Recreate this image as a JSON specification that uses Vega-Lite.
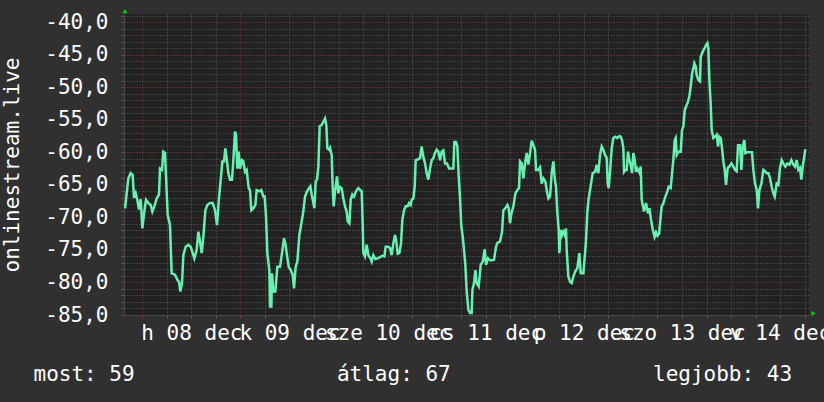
{
  "$schema": "https://vega.github.io/schema/vega-lite/v6.json",
  "width": 685,
  "height": 301,
  "autosize": {"type": "none"},
  "padding": {"left": 124, "top": 14, "right": 15, "bottom": 87},
  "background": "#303030",
  "config": {"view": {"fill": "#222222", "stroke": null}, "font": "DejaVu Sans Mono"},
  "layer": [
    {
      "data": {"values": [
        {"hour":-4.23,"value":-68.6},{"hour":-3.82,"value":-66.3},{"hour":-3.42,"value":-64.0},{"hour":-2.85,"value":-63.2},{"hour":-2.36,"value":-63.5},{"hour":-2.03,"value":-67.0},{"hour":-1.62,"value":-66.3},{"hour":-1.22,"value":-67.3},{"hour":-0.81,"value":-68.8},{"hour":-0.40,"value":-67.2},{"hour":0.01,"value":-71.7},{"hour":0.42,"value":-69.4},{"hour":0.90,"value":-67.3},{"hour":1.48,"value":-67.8},{"hour":2.05,"value":-68.1},{"hour":2.45,"value":-69.1},{"hour":2.94,"value":-68.3},{"hour":3.51,"value":-67.1},{"hour":4.08,"value":-66.5},{"hour":4.33,"value":-62.5},{"hour":4.82,"value":-62.7},{"hour":5.14,"value":-59.9},{"hour":5.55,"value":-60.1},{"hour":5.80,"value":-63.7},{"hour":6.20,"value":-69.6},{"hour":6.77,"value":-71.2},{"hour":7.18,"value":-78.6},{"hour":8.00,"value":-78.8},{"hour":8.57,"value":-79.6},{"hour":8.98,"value":-79.9},{"hour":9.30,"value":-81.4},{"hour":9.71,"value":-80.1},{"hour":10.04,"value":-75.8},{"hour":10.61,"value":-74.5},{"hour":11.26,"value":-74.2},{"hour":11.83,"value":-74.5},{"hour":12.32,"value":-75.5},{"hour":12.73,"value":-76.3},{"hour":13.30,"value":-75.0},{"hour":13.70,"value":-72.2},{"hour":14.11,"value":-73.7},{"hour":14.52,"value":-75.5},{"hour":14.93,"value":-73.0},{"hour":15.42,"value":-68.9},{"hour":15.91,"value":-68.1},{"hour":16.56,"value":-67.8},{"hour":17.21,"value":-67.8},{"hour":17.78,"value":-68.9},{"hour":18.27,"value":-71.2},{"hour":18.68,"value":-67.6},{"hour":19.17,"value":-64.2},{"hour":19.58,"value":-61.4},{"hour":19.98,"value":-61.4},{"hour":20.31,"value":-59.4},{"hour":20.72,"value":-61.4},{"hour":21.04,"value":-63.2},{"hour":21.45,"value":-64.2},{"hour":21.94,"value":-64.2},{"hour":22.27,"value":-61.2},{"hour":22.67,"value":-56.8},{"hour":22.92,"value":-57.3},{"hour":23.24,"value":-62.5},{"hour":23.57,"value":-59.9},{"hour":23.90,"value":-62.5},{"hour":24.38,"value":-61.2},{"hour":24.71,"value":-61.4},{"hour":25.12,"value":-63.0},{"hour":25.53,"value":-62.7},{"hour":26.02,"value":-65.5},{"hour":26.34,"value":-65.8},{"hour":26.67,"value":-68.9},{"hour":27.16,"value":-68.6},{"hour":27.65,"value":-68.1},{"hour":27.97,"value":-65.8},{"hour":28.63,"value":-66.0},{"hour":29.11,"value":-65.8},{"hour":29.60,"value":-66.8},{"hour":29.93,"value":-66.8},{"hour":30.26,"value":-69.9},{"hour":30.58,"value":-75.5},{"hour":31.07,"value":-78.1},{"hour":31.23,"value":-83.7},{"hour":31.56,"value":-83.7},{"hour":31.72,"value":-78.6},{"hour":32.05,"value":-81.4},{"hour":32.54,"value":-81.4},{"hour":33.03,"value":-77.6},{"hour":33.68,"value":-77.6},{"hour":34.17,"value":-75.5},{"hour":34.66,"value":-73.2},{"hour":34.98,"value":-74.0},{"hour":35.31,"value":-75.5},{"hour":35.80,"value":-77.6},{"hour":36.29,"value":-78.1},{"hour":36.78,"value":-78.8},{"hour":37.10,"value":-80.9},{"hour":37.51,"value":-77.6},{"hour":37.92,"value":-76.8},{"hour":38.41,"value":-72.7},
        {"hour":38.82,"value":-71.2},{"hour":39.31,"value":-69.4},{"hour":39.80,"value":-66.8},{"hour":40.29,"value":-66.0},{"hour":40.77,"value":-65.5},{"hour":41.10,"value":-65.2},{"hour":41.43,"value":-66.5},{"hour":41.83,"value":-67.8},{"hour":42.08,"value":-68.6},{"hour":42.40,"value":-64.5},{"hour":42.73,"value":-64.2},{"hour":43.06,"value":-62.2},{"hour":43.38,"value":-56.0},{"hour":43.87,"value":-55.8},{"hour":44.28,"value":-55.3},{"hour":44.69,"value":-54.8},{"hour":45.01,"value":-55.8},{"hour":45.26,"value":-59.4},{"hour":45.67,"value":-59.6},{"hour":45.91,"value":-59.3},{"hour":46.32,"value":-60.4},{"hour":46.56,"value":-65.3},{"hour":46.81,"value":-68.3},{"hour":47.13,"value":-66.0},{"hour":47.62,"value":-63.7},{"hour":47.95,"value":-66.3},{"hour":48.28,"value":-65.3},{"hour":48.76,"value":-65.5},{"hour":49.17,"value":-67.1},{"hour":49.58,"value":-68.3},{"hour":49.99,"value":-69.1},{"hour":50.23,"value":-70.6},{"hour":50.64,"value":-70.9},{"hour":50.97,"value":-67.3},{"hour":51.37,"value":-66.5},{"hour":51.78,"value":-66.8},{"hour":52.27,"value":-66.0},{"hour":52.84,"value":-65.5},{"hour":53.33,"value":-65.8},{"hour":53.66,"value":-66.0},{"hour":53.90,"value":-70.9},{"hour":54.06,"value":-75.5},{"hour":54.47,"value":-76.0},{"hour":54.88,"value":-74.2},{"hour":55.29,"value":-75.8},{"hour":55.78,"value":-76.3},{"hour":56.10,"value":-76.8},{"hour":56.51,"value":-75.8},{"hour":57.00,"value":-76.4},{"hour":57.57,"value":-76.3},{"hour":58.14,"value":-76.1},{"hour":58.71,"value":-75.9},{"hour":59.20,"value":-76.0},{"hour":59.53,"value":-74.5},{"hour":60.18,"value":-74.5},{"hour":60.59,"value":-74.7},{"hour":60.99,"value":-75.8},{"hour":61.40,"value":-74.0},{"hour":61.81,"value":-72.7},{"hour":62.13,"value":-73.7},{"hour":62.46,"value":-75.6},{"hour":62.87,"value":-75.5},{"hour":63.28,"value":-74.0},{"hour":63.60,"value":-70.4},{"hour":64.01,"value":-68.9},{"hour":64.42,"value":-68.3},{"hour":64.91,"value":-68.3},{"hour":65.23,"value":-67.8},{"hour":65.64,"value":-68.1},{"hour":65.89,"value":-67.3},{"hour":66.29,"value":-67.1},{"hour":66.62,"value":-65.3},{"hour":66.86,"value":-61.2},{"hour":67.35,"value":-61.1},{"hour":67.92,"value":-60.9},{"hour":68.33,"value":-59.1},{"hour":68.74,"value":-60.7},{"hour":69.15,"value":-61.7},{"hour":69.55,"value":-63.2},{"hour":69.96,"value":-64.2},{"hour":70.37,"value":-62.5},{"hour":70.78,"value":-61.2},{"hour":71.18,"value":-60.9},{"hour":71.59,"value":-60.1},{"hour":72.00,"value":-59.6},{"hour":72.41,"value":-59.9},{"hour":72.82,"value":-61.2},{"hour":73.22,"value":-59.9},{"hour":73.63,"value":-59.7},{"hour":74.04,"value":-61.7},{"hour":74.53,"value":-61.7},{"hour":75.02,"value":-62.5},{"hour":75.51,"value":-62.5},{"hour":76.08,"value":-62.5},{"hour":76.32,"value":-58.4},{"hour":76.73,"value":-58.4},{"hour":77.06,"value":-59.1},{"hour":77.38,"value":-63.5},{"hour":77.71,"value":-67.1},{"hour":78.03,"value":-71.4},{"hour":78.36,"value":-72.9},{"hour":78.69,"value":-75.0},{"hour":79.01,"value":-77.3},{"hour":79.34,"value":-81.4},{"hour":79.75,"value":-84.2},{"hour":80.15,"value":-84.7},{"hour":80.56,"value":-84.7},{"hour":80.75,"value":-81.1},{"hour":81.14,"value":-80.1},{"hour":81.46,"value":-78.1},
        {"hour":81.79,"value":-80.1},{"hour":82.28,"value":-80.6},{"hour":82.77,"value":-77.3},{"hour":83.26,"value":-76.8},{"hour":83.75,"value":-74.9},{"hour":84.07,"value":-77.3},{"hour":84.56,"value":-76.3},{"hour":85.05,"value":-76.6},{"hour":85.54,"value":-76.6},{"hour":86.03,"value":-76.5},{"hour":86.52,"value":-74.5},{"hour":86.85,"value":-73.9},{"hour":87.50,"value":-73.7},{"hour":87.99,"value":-72.2},{"hour":88.31,"value":-68.9},{"hour":88.80,"value":-68.6},{"hour":89.29,"value":-68.1},{"hour":89.62,"value":-68.6},{"hour":89.94,"value":-70.9},{"hour":90.27,"value":-69.4},{"hour":90.76,"value":-68.3},{"hour":91.25,"value":-66.3},{"hour":91.74,"value":-65.8},{"hour":92.14,"value":-65.5},{"hour":92.39,"value":-61.4},{"hour":92.80,"value":-61.7},{"hour":93.20,"value":-64.0},{"hour":93.61,"value":-61.7},{"hour":94.02,"value":-60.1},{"hour":94.43,"value":-61.9},{"hour":94.84,"value":-60.1},{"hour":95.24,"value":-58.2},{"hour":95.65,"value":-58.9},{"hour":96.06,"value":-59.6},{"hour":96.30,"value":-62.7},{"hour":96.79,"value":-62.7},{"hour":97.28,"value":-62.3},{"hour":97.69,"value":-64.8},{"hour":98.10,"value":-64.0},{"hour":98.59,"value":-64.5},{"hour":98.91,"value":-65.8},{"hour":99.32,"value":-67.1},{"hour":99.73,"value":-66.8},{"hour":100.13,"value":-63.2},{"hour":100.54,"value":-61.4},{"hour":100.87,"value":-64.0},{"hour":101.19,"value":-65.3},{"hour":101.52,"value":-69.4},{"hour":101.85,"value":-71.9},{"hour":102.01,"value":-75.5},{"hour":102.34,"value":-71.9},{"hour":102.66,"value":-72.7},{"hour":102.99,"value":-72.2},{"hour":103.32,"value":-72.7},{"hour":103.64,"value":-71.7},{"hour":103.80,"value":-75.0},{"hour":104.21,"value":-79.1},{"hour":104.62,"value":-79.9},{"hour":105.03,"value":-80.1},{"hour":105.43,"value":-79.1},{"hour":105.92,"value":-78.3},{"hour":106.41,"value":-77.8},{"hour":106.90,"value":-75.5},{"hour":107.23,"value":-78.6},{"hour":107.88,"value":-78.6},{"hour":108.29,"value":-75.5},{"hour":108.53,"value":-73.5},{"hour":108.86,"value":-69.1},{"hour":109.18,"value":-67.1},{"hour":109.51,"value":-65.8},{"hour":109.84,"value":-64.5},{"hour":110.16,"value":-63.2},{"hour":110.73,"value":-63.0},{"hour":111.14,"value":-61.9},{"hour":111.55,"value":-63.2},{"hour":111.96,"value":-60.4},{"hour":112.36,"value":-59.1},{"hour":112.77,"value":-59.6},{"hour":113.18,"value":-60.4},{"hour":113.59,"value":-60.9},{"hour":113.83,"value":-64.8},{"hour":114.08,"value":-65.5},{"hour":114.40,"value":-63.0},{"hour":114.81,"value":-59.4},{"hour":115.22,"value":-57.8},{"hour":115.71,"value":-57.6},{"hour":116.20,"value":-57.8},{"hour":116.69,"value":-57.5},{"hour":117.01,"value":-57.6},{"hour":117.34,"value":-58.1},{"hour":117.66,"value":-59.4},{"hour":117.83,"value":-63.0},{"hour":118.15,"value":-62.7},{"hour":118.48,"value":-62.7},{"hour":118.81,"value":-59.9},{"hour":119.13,"value":-61.2},{"hour":119.46,"value":-61.9},{"hour":119.78,"value":-63.2},{"hour":120.11,"value":-60.1},{"hour":120.44,"value":-61.2},{"hour":120.76,"value":-63.0},{"hour":121.09,"value":-62.5},{"hour":121.58,"value":-63.1},{"hour":121.90,"value":-62.2},
        {"hour":122.15,"value":-67.3},{"hour":122.72,"value":-69.1},{"hour":123.21,"value":-67.8},{"hour":123.70,"value":-69.4},{"hour":124.02,"value":-68.6},{"hour":124.40,"value":-70.2},{"hour":124.90,"value":-72.0},{"hour":125.30,"value":-73.0},{"hour":125.65,"value":-72.3},{"hour":126.00,"value":-72.8},{"hour":126.40,"value":-72.5},{"hour":126.70,"value":-70.5},{"hour":127.04,"value":-68.3},{"hour":127.45,"value":-67.8},{"hour":127.94,"value":-66.8},{"hour":128.43,"value":-66.0},{"hour":128.75,"value":-65.3},{"hour":129.24,"value":-65.5},{"hour":129.65,"value":-62.7},{"hour":129.89,"value":-61.2},{"hour":130.22,"value":-58.1},{"hour":130.46,"value":-57.8},{"hour":130.71,"value":-60.4},{"hour":131.12,"value":-59.9},{"hour":131.69,"value":-59.9},{"hour":132.01,"value":-56.6},{"hour":132.34,"value":-56.0},{"hour":132.67,"value":-53.5},{"hour":132.99,"value":-53.0},{"hour":133.48,"value":-52.2},{"hour":133.81,"value":-51.4},{"hour":134.13,"value":-49.9},{"hour":134.46,"value":-47.9},{"hour":134.78,"value":-47.1},{"hour":135.03,"value":-46.3},{"hour":135.36,"value":-46.8},{"hour":135.60,"value":-48.1},{"hour":136.01,"value":-48.9},{"hour":136.42,"value":-49.1},{"hour":136.58,"value":-45.3},{"hour":136.90,"value":-44.8},{"hour":137.23,"value":-44.3},{"hour":137.56,"value":-44.0},{"hour":137.88,"value":-43.5},{"hour":138.21,"value":-43.2},{"hour":138.45,"value":-44.0},{"hour":138.70,"value":-48.9},{"hour":139.02,"value":-52.5},{"hour":139.27,"value":-56.6},{"hour":139.68,"value":-57.8},{"hour":140.08,"value":-57.6},{"hour":140.49,"value":-57.3},{"hour":140.82,"value":-59.1},{"hour":141.14,"value":-57.6},{"hour":141.47,"value":-57.8},{"hour":141.80,"value":-59.4},{"hour":142.12,"value":-61.4},{"hour":142.45,"value":-62.7},{"hour":142.77,"value":-65.0},{"hour":143.18,"value":-62.4},{"hour":143.59,"value":-62.2},{"hour":144.08,"value":-61.7},{"hour":144.57,"value":-62.2},{"hour":144.98,"value":-62.7},{"hour":145.38,"value":-62.9},{"hour":145.71,"value":-58.9},{"hour":146.20,"value":-58.9},{"hour":146.53,"value":-62.7},{"hour":146.85,"value":-59.1},{"hour":147.26,"value":-58.1},{"hour":147.50,"value":-60.1},{"hour":147.83,"value":-60.0},{"hour":148.48,"value":-60.0},{"hour":149.13,"value":-60.0},{"hour":149.46,"value":-62.7},{"hour":149.87,"value":-64.8},{"hour":150.28,"value":-65.8},{"hour":150.60,"value":-68.6},{"hour":150.93,"value":-65.8},{"hour":151.42,"value":-64.8},{"hour":151.91,"value":-62.7},{"hour":152.31,"value":-62.9},{"hour":152.72,"value":-63.2},{"hour":153.13,"value":-63.2},{"hour":153.54,"value":-64.0},{"hour":153.94,"value":-65.3},{"hour":154.35,"value":-66.3},{"hour":154.68,"value":-66.8},{"hour":155.17,"value":-64.8},{"hour":155.58,"value":-65.0},{"hour":155.98,"value":-62.4},{"hour":156.39,"value":-61.2},{"hour":156.80,"value":-61.7},{"hour":157.29,"value":-62.2},{"hour":157.78,"value":-61.7},{"hour":158.27,"value":-61.9},{"hour":158.76,"value":-61.2},{"hour":159.24,"value":-61.9},{"hour":159.65,"value":-62.2},{"hour":160.06,"value":-61.2},{"hour":160.47,"value":-62.7},{"hour":160.87,"value":-62.4},{"hour":161.20,"value":-64.2},{"hour":161.53,"value":-62.2},{"hour":161.85,"value":-60.9},{"hour":162.18,"value":-59.5}
      ]},
      "mark": {"type": "line", "color": "#68f0b0", "strokeWidth": 2.5, "clip": true},
      "encoding": {
        "x": {
          "field": "hour", "type": "quantitative",
          "scale": {"domain": [-4.48, 163.07], "nice": false, "zero": false},
          "axis": {
            "values": [0,6,12,18,24,30,36,42,48,54,60,66,72,78,84,90,96,102,108,114,120,126,132,138,144,150,156,162],
            "tickCount": 100,
            "labelExpr": "datum.value % 24 === 12 ? ['h','k','sze','cs','p','szo','v'][floor(datum.value / 24)] + ' ' + ['08','09','10','11','12','13','14'][floor(datum.value / 24)] + ' dec' : ''",
            "labelFont": "DejaVu Sans Mono", "labelFontSize": 21, "labelColor": "#ffffff",
            "labelOverlap": false, "labelBound": false, "labelFlush": false, "labelAngle": 0, "labelPadding": 4,
            "grid": true, "gridDash": [1, 2], "gridWidth": 1,
            "gridColor": {"condition": {"test": "datum.value % 24 === 0", "value": "#8a3838"}, "value": "#5e5e5e"},
            "ticks": true, "tickSize": 3,
            "tickColor": {"condition": {"test": "datum.value % 24 === 0", "value": "#8a3838"}, "value": "#5e5e5e"},
            "domain": true, "domainColor": "#4a4a4a",
            "title": "most: 59\u00a0\u00a0\u00a0\u00a0\u00a0\u00a0\u00a0\u00a0\u00a0\u00a0\u00a0\u00a0\u00a0\u00a0\u00a0\u00a0átlag: 67\u00a0\u00a0\u00a0\u00a0\u00a0\u00a0\u00a0\u00a0\u00a0\u00a0\u00a0\u00a0\u00a0\u00a0\u00a0\u00a0legjobb: 43",
            "titleFont": "DejaVu Sans Mono", "titleFontSize": 21, "titleFontWeight": "normal", "titleColor": "#ffffff",
            "titleX": -91, "titleY": 65, "titleAlign": "left", "titleBaseline": "alphabetic"
          }
        },
        "y": {
          "field": "value", "type": "quantitative",
          "scale": {"domain": [-85, -38.74], "nice": false, "zero": false},
          "axis": {
            "values": [-85,-84,-83,-82,-81,-80,-79,-78,-77,-76,-75,-74,-73,-72,-71,-70,-69,-68,-67,-66,-65,-64,-63,-62,-61,-60,-59,-58,-57,-56,-55,-54,-53,-52,-51,-50,-49,-48,-47,-46,-45,-44,-43,-42,-41,-40,-39],
            "tickCount": 100,
            "labelExpr": "datum.value % 5 === 0 ? '-' + replace(format(abs(datum.value), '.1f'), '.', ',') : ''",
            "labelFont": "DejaVu Sans Mono", "labelFontSize": 21, "labelColor": "#ffffff",
            "labelOverlap": false, "labelBound": false, "labelFlush": false, "labelPadding": 13,
            "grid": true, "gridDash": [1, 2], "gridWidth": 1,
            "gridColor": {"condition": {"test": "datum.value % 5 === 0", "value": "#8a3838"}, "value": "#5e5e5e"},
            "ticks": true, "tickSize": 3,
            "tickColor": {"condition": {"test": "datum.value % 5 === 0", "value": "#8a3838"}, "value": "#5e5e5e"},
            "domain": true, "domainColor": "#4a4a4a",
            "title": "onlinestream.live",
            "titleFont": "DejaVu Sans Mono", "titleFontSize": 21, "titleFontWeight": "normal", "titleColor": "#ffffff",
            "titlePadding": 22
          }
        }
      }
    },
    {
      "data": {"values": [{"hour": -4.23, "value": -38.74}]},
      "mark": {"type": "point", "shape": "triangle-up", "filled": true, "color": "#00d000", "opacity": 1, "size": 25, "yOffset": -3, "clip": false},
      "encoding": {"x": {"field": "hour", "type": "quantitative"}, "y": {"field": "value", "type": "quantitative"}}
    },
    {
      "data": {"values": [{"hour": 163.07, "value": -85}]},
      "mark": {"type": "point", "shape": "triangle-right", "filled": true, "color": "#00d000", "opacity": 1, "size": 25, "xOffset": 4.5, "yOffset": -1.5, "clip": false},
      "encoding": {"x": {"field": "hour", "type": "quantitative"}, "y": {"field": "value", "type": "quantitative"}}
    }
  ]
}
